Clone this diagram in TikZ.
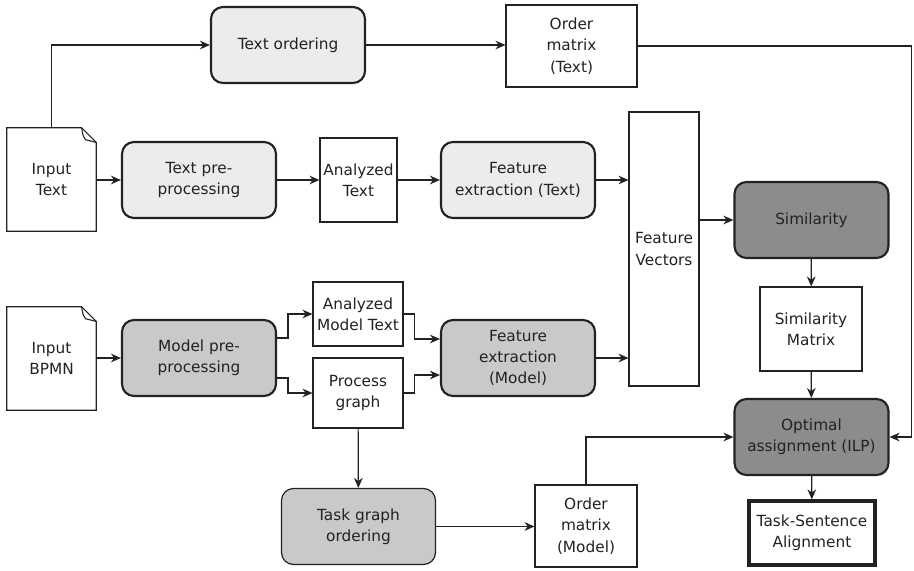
\documentclass[tikz,border=0pt]{standalone}
\usepackage{fontspec}
\setmainfont{DejaVu Sans}
\usetikzlibrary{arrows.meta, positioning, calc}

\definecolor{lightbox}{HTML}{ECEDEB}
\definecolor{midbox}{HTML}{C9C9C9}
\definecolor{darkbox}{HTML}{8C8C8C}
\definecolor{inkgray}{HTML}{222222}

\begin{document}
\begin{tikzpicture}[
    x=0.75pt, y=-0.75pt,
    every node/.style={font=\fontsize{11.5}{16}\selectfont, text=inkgray},
    proc/.style={rectangle, draw=inkgray, line width=1.6pt, rounded corners=9pt,
                 minimum width=115.5pt, minimum height=57pt, align=center},
    textproc/.style={proc, fill=lightbox},
    modelproc/.style={proc, fill=midbox},
    matchproc/.style={proc, fill=darkbox},
    data/.style={rectangle, draw=inkgray, line width=0.8pt, fill=white,
                 align=center, inner sep=2pt},
    docbox/.style={rectangle, minimum width=66.75pt, minimum height=77.25pt,
                   align=center},
    arrow/.style={-{Stealth[length=7.5pt, width=6.5pt]}, line width=0.9pt, draw=inkgray},
]
\useasboundingbox (0,0) rectangle (914,571);

% Input documents
\node[docbox] (intext) at (51.5,179.5) {Input\\Text};
\node[docbox] (inbpmn) at (51.5,358.5) {Input\\BPMN};
\foreach \doc in {intext, inbpmn}{
  \draw[line width=0.8pt, draw=inkgray, line join=miter]
    (\doc.south west) -- (\doc.north west) -- ([xshift=-11pt]\doc.north east)
    -- ([yshift=-11pt]\doc.north east) -- (\doc.south east) -- cycle;
  \draw[line width=0.8pt, draw=inkgray, line join=round]
    ([xshift=-11pt]\doc.north east) .. controls ([xshift=-10pt,yshift=-6pt]\doc.north east) .. ([xshift=-8pt,yshift=-9pt]\doc.north east)
    -- ([yshift=-11pt]\doc.north east);
}

% --- Text branch ---
\node[textproc] (textord) at (288,45) {Text ordering};
\node[data, minimum width=98.25pt, minimum height=61.5pt] (ordtext) at (571.5,46) {Order\\matrix\\(Text)};
\node[textproc] (textpre) at (199,180) {Text pre-\\processing};
\node[data, minimum width=57.75pt, minimum height=63pt] (antext) at (358.5,180) {Analyzed\\Text};
\node[textproc] (feattext) at (518,180) {Feature\\extraction (Text)};

% --- Model branch ---
\node[modelproc] (modelpre) at (199,358) {Model pre-\\processing};
\node[data, minimum width=67.5pt, minimum height=48pt] (anmodel) at (358,314) {Analyzed\\Model Text};
\node[data, minimum width=67.5pt, minimum height=52.5pt] (procgraph) at (358,393) {Process\\graph};
\node[modelproc] (featmodel) at (518,358) {Feature\\extraction\\(Model)};
\node[modelproc, line width=0.9pt] (taskord) at (358.5,526.5) {Task graph\\ordering};
\node[data, minimum width=76.5pt, minimum height=61.5pt] (ordmodel) at (586,526) {Order\\matrix\\(Model)};

% --- Matching ---
\node[data, minimum width=52.5pt, minimum height=205.5pt] (featvec) at (664,249) {Feature\\Vectors};
\node[matchproc] (sim) at (811.5,220) {Similarity};
\node[data, minimum width=76.5pt, minimum height=63pt] (simmat) at (811,329) {Similarity\\Matrix};
\node[matchproc] (optim) at (811.5,437) {Optimal\\assignment (ILP)};
\node[data, line width=3pt, minimum width=94pt, minimum height=47.5pt] (align) at (812,533) {Task-Sentence\\Alignment};

% --- Arrows ---
% text side
\draw[arrow] (intext.north) |- (textord.west);
\draw[arrow] (textord) -- (textord -| ordtext.west);
\draw[arrow] (ordtext.east) -| ([xshift=16.5pt]optim.east) -- (optim.east);
\draw[arrow] (intext.east |- textpre) -- (textpre);
\draw[arrow] (textpre) -- (antext);
\draw[arrow] (antext) -- (feattext);
\draw[arrow] (feattext) -- (feattext -| featvec.west);

% model side
\draw[arrow] (inbpmn.east |- modelpre) -- (modelpre);
\draw[arrow] ([yshift=15pt]modelpre.east) -- ++(8.25pt,0) |- (anmodel.west);
\draw[arrow] ([yshift=-15pt]modelpre.east) -- ++(8.25pt,0) |- (procgraph.west);
\draw[arrow] (anmodel.east) -- ++(8.25pt,0) |- ([yshift=14.25pt]featmodel.west);
\draw[arrow] (procgraph.east) -- ++(8.25pt,0) |- ([yshift=-12.75pt]featmodel.west);
\draw[arrow] (featmodel) -- (featmodel -| featvec.west);
\draw[arrow] (procgraph) -- (taskord);
\draw[arrow] (taskord) -- (taskord -| ordmodel.west);
\draw[arrow] (ordmodel.north) |- (optim.west);

% matching
\draw[arrow] (featvec.east |- sim) -- (sim);
\draw[arrow] (sim) -- (simmat);
\draw[arrow] (simmat) -- (optim);
\draw[arrow] (optim) -- (align);

\end{tikzpicture}
\end{document}
